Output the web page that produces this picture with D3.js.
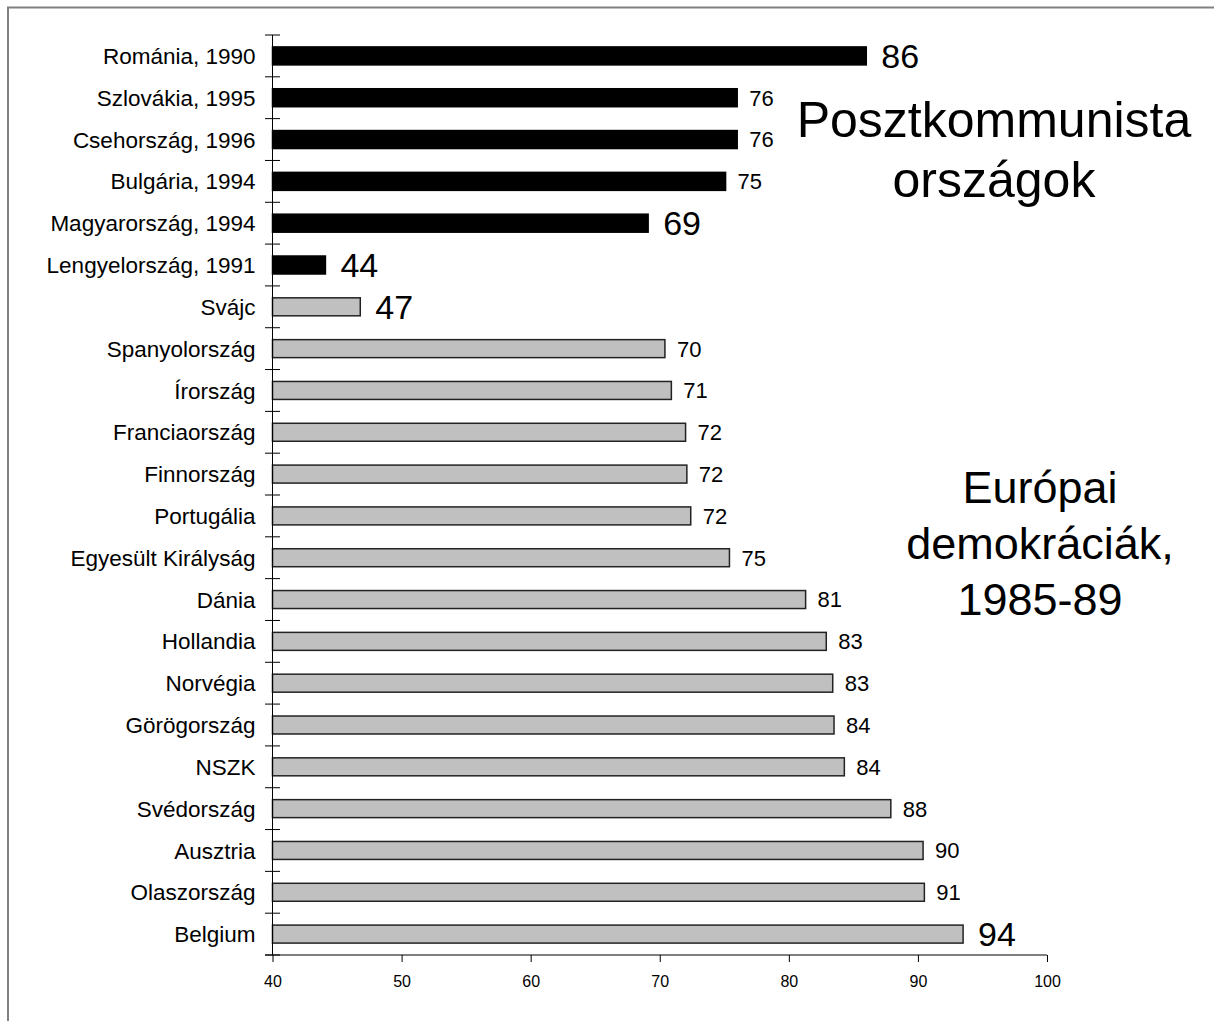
<!DOCTYPE html>
<html lang="hu">
<head>
  <meta charset="UTF-8">
  <title>Posztkommunista országok és európai demokráciák</title>
  <script src="https://d3js.org/d3.v7.min.js"></script>
  <style>
    body {
      margin: 0;
      background: #fff;
      font-family: "Liberation Sans", Arial, sans-serif;
    }
    svg { display: block; }
  </style>
</head>
<body>
  <div id="chart"></div>

  <script>
    // countries, top to bottom
    const countries = [
      "Románia, 1990", "Szlovákia, 1995", "Csehország, 1996", "Bulgária, 1994",
      "Magyarország, 1994", "Lengyelország, 1991", "Svájc", "Spanyolország",
      "Írország", "Franciaország", "Finnország", "Portugália",
      "Egyesült Királyság", "Dánia", "Hollandia", "Norvégia",
      "Görögország", "NSZK", "Svédország", "Ausztria",
      "Olaszország", "Belgium"
    ];
    const values = [
      86.0, 76.0, 76.0, 75.1, 69.1, 44.1, 46.8, 70.4,
      70.9, 72.0, 72.1, 72.4, 75.4, 81.3, 82.9, 83.4,
      83.5, 84.3, 87.9, 90.4, 90.5, 93.5
    ];
    // first six are post-communist countries
    const groups = [
      "post", "post", "post", "post", "post", "post", "eu", "eu",
      "eu", "eu", "eu", "eu", "eu", "eu", "eu", "eu",
      "eu", "eu", "eu", "eu", "eu", "eu"
    ];
    // which value labels are drawn large
    const bigLabels = ["Románia, 1990", "Magyarország, 1994", "Lengyelország, 1991", "Svájc", "Belgium"];
    const xTicks = [40, 50, 60, 70, 80, 90, 100];
    const noteTop = ["Posztkommunista", "országok"];
    const noteBottom = ["Európai", "demokráciák,", "1985-89"];

    const width = 1214, height = 1021;
    const margin = { top: 35, right: 167, bottom: 66, left: 272.5 };

    const svg = d3.select("#chart").append("svg")
      .attr("width", width)
      .attr("height", height);

    // outer frame (right and bottom run off the page)
    svg.append("rect")
      .attr("x", 8).attr("y", 7.5)
      .attr("width", width).attr("height", height)
      .attr("fill", "none")
      .attr("stroke", "#808080")
      .attr("stroke-width", 2);

    const x = d3.scaleLinear()
      .domain([40, 100])
      .range([margin.left, width - margin.right]);

    const y = d3.scaleBand()
      .domain(countries)
      .range([margin.top, height - margin.bottom]);

    const barH = y.bandwidth() * 0.43;

    const data = countries.map((c, i) => ({ name: c, value: values[i], group: groups[i] }));

    // bars
    svg.append("g")
      .selectAll("rect")
      .data(data)
      .join("rect")
        .attr("x", x(40))
        .attr("y", d => y(d.name) + (y.bandwidth() - barH) / 2)
        .attr("width", d => x(d.value) - x(40))
        .attr("height", barH)
        .attr("fill", d => d.group === "post" ? "#000" : "#c0c0c0")
        .attr("stroke", d => d.group === "post" ? "#000" : "#222")
        .attr("stroke-width", 1.5);

    // value labels
    svg.append("g")
      .selectAll("text")
      .data(data)
      .join("text")
        .attr("x", d => x(d.value) + (bigLabels.includes(d.name) ? 15 : 12))
        .attr("y", d => y(d.name) + y.bandwidth() / 2)
        .attr("dy", "0.36em")
        .attr("font-size", d => bigLabels.includes(d.name) ? 34 : 22)
        .attr("fill", "#000")
        .text(d => Math.round(d.value));

    // category axis: line + ticks at band boundaries
    const yAxis = svg.append("g");
    yAxis.append("line")
      .attr("x1", x(40)).attr("x2", x(40))
      .attr("y1", margin.top).attr("y2", height - margin.bottom)
      .attr("stroke", "#000");
    const bounds = countries.map(c => y(c)).concat([y(countries[countries.length - 1]) + y.step()]);
    yAxis.selectAll("line.tk")
      .data(bounds)
      .join("line")
        .attr("class", "tk")
        .attr("x1", x(40) - 7.5).attr("x2", x(40) + 7.5)
        .attr("y1", d => d).attr("y2", d => d)
        .attr("stroke", "#000");
    yAxis.selectAll("text")
      .data(countries)
      .join("text")
        .attr("x", x(40) - 17)
        .attr("y", d => y(d) + y.bandwidth() / 2)
        .attr("dy", "0.36em")
        .attr("text-anchor", "end")
        .attr("font-size", 22.5)
        .text(d => d);

    // value axis
    const xAxis = svg.append("g")
      .attr("transform", `translate(0,${height - margin.bottom})`)
      .call(d3.axisBottom(x).tickValues(xTicks).tickSize(7).tickSizeOuter(0).tickPadding(14));
    xAxis.select(".domain").attr("d", `M${x(40) - 7.5},0H${x(100)}`);
    xAxis.selectAll("text")
      .attr("font-family", "Liberation Sans, Arial, sans-serif")
      .attr("font-size", 16)
      .attr("fill", "#000");

    // annotations
    svg.append("text")
      .attr("x", 994)
      .attr("y", 137)
      .attr("text-anchor", "middle")
      .attr("font-size", 50)
      .selectAll("tspan")
      .data(noteTop)
      .join("tspan")
        .attr("x", 994)
        .attr("dy", (d, i) => i === 0 ? 0 : 60)
        .text(d => d);

    svg.append("text")
      .attr("x", 1040)
      .attr("y", 503)
      .attr("text-anchor", "middle")
      .attr("font-size", 45)
      .selectAll("tspan")
      .data(noteBottom)
      .join("tspan")
        .attr("x", 1040)
        .attr("dy", (d, i) => i === 0 ? 0 : 56)
        .text(d => d);
  </script>
</body>
</html>
